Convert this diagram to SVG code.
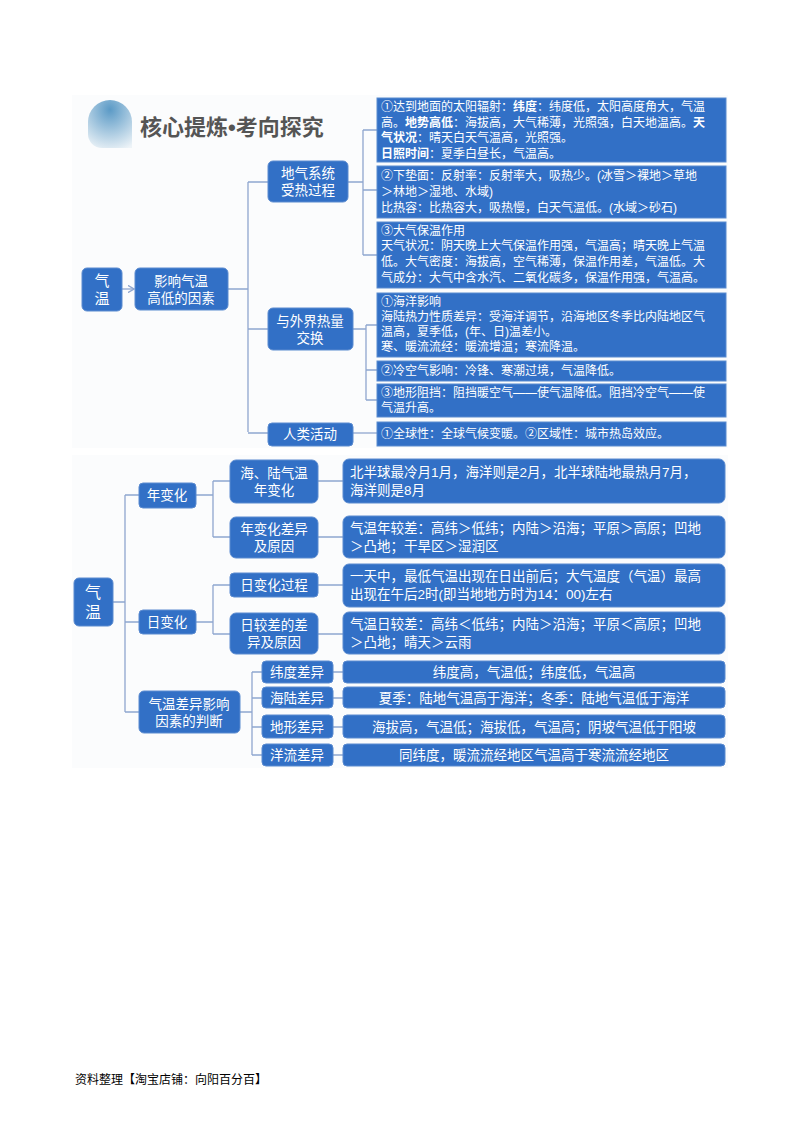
<svg xmlns="http://www.w3.org/2000/svg" width="800" height="1132" viewBox="0 0 800 1132">
<defs>
<radialGradient id="g" cx="0.5" cy="0.2" r="0.9"><stop offset="0" stop-color="#5b9ac6"/><stop offset="1" stop-color="#eef4f8"/></radialGradient>
<marker id="ar" markerWidth="6" markerHeight="6" refX="5" refY="3" orient="auto"><path d="M0,0 L5,3 L0,6" fill="none" stroke="#8fa6cf" stroke-width="1"/></marker>
</defs>
<style>
.n{fill:#3270c6;stroke:#5b8bd0;stroke-width:1}
.t{font-family:"Liberation Sans","Noto Sans CJK SC",sans-serif;fill:#fff}
.c{stroke:#8fa6cf;stroke-width:1.3;fill:none}
.s{font-size:12px}.m{font-size:13.5px}.b{font-weight:bold}
</style>
<rect width="800" height="1132" fill="#fff"/>
<rect x="72" y="95" width="656" height="353" fill="#fbfcfd"/>
<rect x="72" y="455" width="656" height="313" fill="#fbfcfd"/>
<path d="M88,122 a22,22 0 0 1 44,0 v26 h-30 a14,14 0 0 1 -14,-14z" fill="url(#g)"/>
<text x="140" y="135" font-family="'Liberation Sans','Noto Sans CJK SC',sans-serif" font-size="22" font-weight="bold" fill="#555">核心提炼•考向探究</text>
<g id="connectors">
<path class="c" d="M122,289 H134" marker-end="url(#ar)"/>
<path class="c" d="M228,289 H248 M248,182 V432 M248,182 H268 M248,329 H268 M248,433 H268"/>
<path class="c" d="M348,182 H363 M363,130 V255 M363,130 H377 M363,190 H377 M363,255 H377"/>
<path class="c" d="M353,329 H366 M366,325 V400 M366,325 H377 M366,370 H377 M366,400 H377"/>
<path class="c" d="M353,433 H377"/>
<path class="c" d="M113,602 H125 M125,495 V712 M125,495 H139 M125,622 H139 M125,712 H139"/>
<path class="c" d="M196,495 H213 M213,481 V537 M213,481 H230 M213,537 H230"/>
<path class="c" d="M196,622 H213 M213,585 V634 M213,585 H230 M213,634 H230"/>
<path class="c" d="M318,481 H343 M318,537 H343 M318,585 H343 M318,634 H343"/>
<path class="c" d="M240,712 H252 M252,672 V755 M252,672 H262 M252,698 H262 M252,727 H262 M252,755 H262"/>
<path class="c" d="M333,672 H343 M333,698 H343 M333,727 H343 M333,755 H343"/>
</g>
<g id="n1"><rect class="n" x="82" y="268" width="40" height="43" rx="5"/><text class="t" x="102" y="286" font-size="15" text-anchor="middle">气</text><text class="t" x="102" y="304" font-size="15" text-anchor="middle">温</text></g>
<g id="n2"><rect class="n" x="135" y="268" width="93" height="42" rx="5"/><text class="t m" x="181" y="286" text-anchor="middle">影响气温</text><text class="t m" x="181" y="303" text-anchor="middle">高低的因素</text></g>
<g id="n3"><rect class="n" x="268" y="161" width="80" height="41" rx="5"/><text class="t m" x="308" y="178" text-anchor="middle">地气系统</text><text class="t m" x="308" y="195" text-anchor="middle">受热过程</text></g>
<g id="n4"><rect class="n" x="268" y="308" width="85" height="42" rx="5"/><text class="t m" x="310" y="326" text-anchor="middle">与外界热量</text><text class="t m" x="310" y="343" text-anchor="middle">交换</text></g>
<g id="n5"><rect class="n" x="268" y="423" width="85" height="23" rx="4"/><text class="t m" x="310" y="439" text-anchor="middle">人类活动</text></g>
<g id="d1"><rect class="n" x="377" y="98" width="349" height="64"/><text class="t s"><tspan x="381" y="111">①达到地面的太阳辐射：<tspan class="b">纬度</tspan>：纬度低，太阳高度角大，气温</tspan><tspan x="381" y="127">高。<tspan class="b">地势高低</tspan>：海拔高，大气稀薄，光照强，白天地温高。<tspan class="b">天</tspan></tspan><tspan x="381" y="142"><tspan class="b">气状况</tspan>：晴天白天气温高，光照强。</tspan><tspan x="381" y="158"><tspan class="b">日照时间</tspan>：夏季白昼长，气温高。</tspan></text></g>
<g id="d2"><rect class="n" x="377" y="166" width="349" height="52"/><text class="t s"><tspan x="381" y="180">②下垫面：反射率：反射率大，吸热少。(冰雪＞裸地＞草地</tspan><tspan x="381" y="196">＞林地＞湿地、水域)</tspan><tspan x="381" y="212">比热容：比热容大，吸热慢，白天气温低。(水域＞砂石)</tspan></text></g>
<g id="d3"><rect class="n" x="377" y="222" width="349" height="66"/><text class="t s"><tspan x="381" y="235">③大气保温作用</tspan><tspan x="381" y="250">天气状况：阴天晚上大气保温作用强，气温高；晴天晚上气温</tspan><tspan x="381" y="266">低。大气密度：海拔高，空气稀薄，保温作用差，气温低。大</tspan><tspan x="381" y="282">气成分：大气中含水汽、二氧化碳多，保温作用强，气温高。</tspan></text></g>
<g id="d4"><rect class="n" x="377" y="293" width="349" height="64"/><text class="t s"><tspan x="381" y="306">①海洋影响</tspan><tspan x="381" y="321">海陆热力性质差异：受海洋调节，沿海地区冬季比内陆地区气</tspan><tspan x="381" y="336">温高，夏季低，(年、日)温差小。</tspan><tspan x="381" y="351">寒、暖流流经：暖流增温；寒流降温。</tspan></text></g>
<g id="d5"><rect class="n" x="377" y="361" width="349" height="20"/><text class="t s" x="381" y="375">②冷空气影响：冷锋、寒潮过境，气温降低。</text></g>
<g id="d6"><rect class="n" x="377" y="384" width="349" height="33"/><text class="t s"><tspan x="381" y="397">③地形阻挡：阻挡暖空气——使气温降低。阻挡冷空气——使</tspan><tspan x="381" y="412">气温升高。</tspan></text></g>
<g id="d7"><rect class="n" x="377" y="422" width="349" height="24"/><text class="t s" x="381" y="438">①全球性：全球气候变暖。②区域性：城市热岛效应。</text></g>
<g id="m1"><rect class="n" x="74" y="578" width="39" height="48" rx="5"/><text class="t" x="93" y="598" font-size="16" text-anchor="middle">气</text><text class="t" x="93" y="618" font-size="16" text-anchor="middle">温</text></g>
<g id="m2"><rect class="n" x="139" y="483" width="57" height="25" rx="4"/><text class="t m" x="167" y="500" text-anchor="middle">年变化</text></g>
<g id="m3"><rect class="n" x="139" y="610" width="57" height="24" rx="4"/><text class="t m" x="167" y="627" text-anchor="middle">日变化</text></g>
<g id="m4"><rect class="n" x="139" y="691" width="101" height="42" rx="5"/><text class="t m" x="189" y="709" text-anchor="middle">气温差异影响</text><text class="t m" x="189" y="726" text-anchor="middle">因素的判断</text></g>
<g id="m5"><rect class="n" x="230" y="460" width="88" height="43" rx="6"/><text class="t m" x="274" y="478" text-anchor="middle">海、陆气温</text><text class="t m" x="274" y="495" text-anchor="middle">年变化</text></g>
<g id="m6"><rect class="n" x="230" y="517" width="88" height="41" rx="6"/><text class="t m" x="274" y="534" text-anchor="middle">年变化差异</text><text class="t m" x="274" y="551" text-anchor="middle">及原因</text></g>
<g id="m7"><rect class="n" x="230" y="573" width="88" height="24" rx="4"/><text class="t m" x="274" y="590" text-anchor="middle">日变化过程</text></g>
<g id="m8"><rect class="n" x="230" y="613" width="88" height="41" rx="6"/><text class="t m" x="274" y="630" text-anchor="middle">日较差的差</text><text class="t m" x="274" y="647" text-anchor="middle">异及原因</text></g>
<g id="e1"><rect class="n" x="343" y="459" width="382" height="44" rx="6"/><text class="t m"><tspan x="350" y="477">北半球最冷月1月，海洋则是2月，北半球陆地最热月7月，</tspan><tspan x="350" y="495">海洋则是8月</tspan></text></g>
<g id="e2"><rect class="n" x="343" y="516" width="382" height="42" rx="6"/><text class="t m"><tspan x="350" y="533">气温年较差：高纬＞低纬；内陆＞沿海；平原＞高原；凹地</tspan><tspan x="350" y="551">＞凸地；干旱区＞湿润区</tspan></text></g>
<g id="e3"><rect class="n" x="343" y="564" width="382" height="43" rx="6"/><text class="t m"><tspan x="350" y="581">一天中，最低气温出现在日出前后；大气温度（气温）最高</tspan><tspan x="350" y="599">出现在午后2时(即当地地方时为14：00)左右</tspan></text></g>
<g id="e4"><rect class="n" x="343" y="612" width="382" height="42" rx="6"/><text class="t m"><tspan x="350" y="629">气温日较差：高纬＜低纬；内陆＞沿海；平原＜高原；凹地</tspan><tspan x="350" y="647">＞凸地；晴天＞云雨</tspan></text></g>
<g id="f1"><rect class="n" x="262" y="661" width="71" height="22" rx="4"/><text class="t m" x="297" y="677" text-anchor="middle">纬度差异</text></g>
<g id="f2"><rect class="n" x="262" y="687" width="71" height="21" rx="4"/><text class="t m" x="297" y="703" text-anchor="middle">海陆差异</text></g>
<g id="f3"><rect class="n" x="262" y="715" width="71" height="23" rx="4"/><text class="t m" x="297" y="732" text-anchor="middle">地形差异</text></g>
<g id="f4"><rect class="n" x="262" y="744" width="71" height="22" rx="4"/><text class="t m" x="297" y="760" text-anchor="middle">洋流差异</text></g>
<g id="g1"><rect class="n" x="343" y="661" width="382" height="22" rx="4"/><text class="t m" x="534" y="677" text-anchor="middle">纬度高，气温低；纬度低，气温高</text></g>
<g id="g2"><rect class="n" x="343" y="687" width="382" height="21" rx="4"/><text class="t m" x="534" y="703" text-anchor="middle">夏季：陆地气温高于海洋；冬季：陆地气温低于海洋</text></g>
<g id="g3"><rect class="n" x="343" y="715" width="382" height="23" rx="4"/><text class="t m" x="534" y="732" text-anchor="middle">海拔高，气温低；海拔低，气温高；阴坡气温低于阳坡</text></g>
<g id="g4"><rect class="n" x="343" y="744" width="382" height="22" rx="4"/><text class="t m" x="534" y="760" text-anchor="middle">同纬度，暖流流经地区气温高于寒流流经地区</text></g>
<text x="75" y="1084" font-family="'Liberation Sans','Noto Sans CJK SC',sans-serif" font-size="12" fill="#000">资料整理【淘宝店铺：向阳百分百】</text>
</svg>
